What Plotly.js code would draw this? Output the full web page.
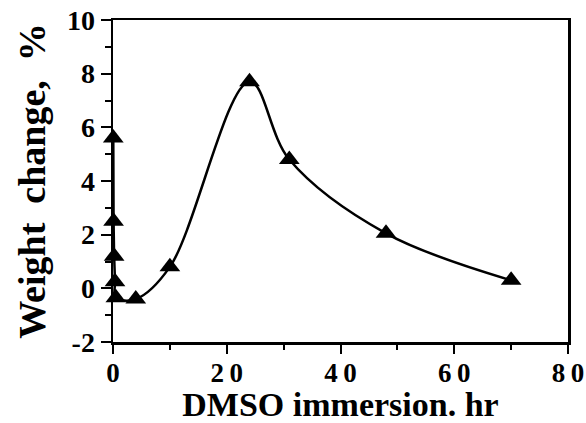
<!DOCTYPE html>
<html>
<head>
<meta charset="utf-8">
<script src="https://cdn.plot.ly/plotly-3.0.1.min.js"></script>
<style>html,body{margin:0;padding:0;background:#fff;}#chart{width:586px;height:423px;}</style>
</head>
<body>
<div id="chart"></div>
<script>
var hours = [0.05, 0.1, 0.2, 0.35, 0.5, 4, 10, 24, 31, 48, 70];
var weightChange = [5.6, 2.5, 1.2, 0.25, -0.35, -0.4, 0.8, 7.7, 4.8, 2.05, 0.3];
var xTickVals = [0, 20, 40, 60, 80];
var xTickLabels = ["0", "2\u20090", "4\u20090", "6\u20090", "8\u20090"];
var yTickVals = [-2, 0, 2, 4, 6, 8, 10];
var yTickLabels = ["-2", "0", "2", "4", "6", "8", "10"];

var font = "Liberation Serif, Times New Roman, serif";
var trace = {
  x: hours, y: weightChange, type: "scatter", mode: "lines+markers",
  line: {color: "#000", width: 2.5, shape: "spline", smoothing: 1},
  marker: {symbol: "triangle-up", size: 18, color: "#000"},
  cliponaxis: false, hoverinfo: "none"
};
var layout = {
  width: 586, height: 423,
  margin: {l: 113, r: 18, t: 20, b: 81},
  paper_bgcolor: "#fff", plot_bgcolor: "#fff",
  showlegend: false,
  font: {family: font, color: "#000"},
  xaxis: {
    range: [0, 80], tickvals: xTickVals, ticktext: xTickLabels,
    showgrid: false, zeroline: false,
    showline: true, linecolor: "#000", linewidth: 2.5, mirror: true,
    ticks: "outside", ticklen: 9, tickwidth: 2, tickcolor: "#000",
    minor: {dtick: 10, ticks: "outside", ticklen: 5, tickwidth: 2, tickcolor: "#000"},
    tickfont: {family: font, size: 27, color: "#000", weight: "bold"},
    ticklabelstandoff: -4,
    title: {text: "<b>DMSO immersion. hr</b>", font: {family: font, size: 34, color: "#000"}, standoff: 6}
  },
  yaxis: {
    range: [-2, 10], tickvals: yTickVals, ticktext: yTickLabels,
    showgrid: false, zeroline: false,
    showline: true, linecolor: "#000", linewidth: 2.5, mirror: true,
    ticks: "outside", ticklen: 10, tickwidth: 2, tickcolor: "#000",
    minor: {dtick: 1, ticks: "outside", ticklen: 6, tickwidth: 2, tickcolor: "#000"},
    tickfont: {family: font, size: 28, color: "#000", weight: "bold"},
    title: {text: "<b>Weight  change,  %</b>", font: {family: font, size: 38, color: "#000"}, standoff: 10}
  }
};
Plotly.newPlot("chart", [trace], layout, {staticPlot: true});
</script>
</body>
</html>
